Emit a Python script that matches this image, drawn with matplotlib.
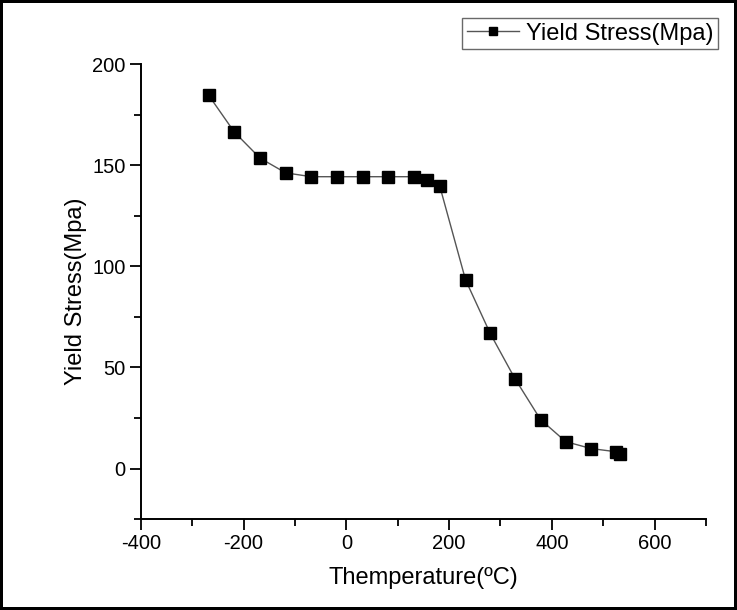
"""Yield stress vs temperature, Origin-style line + square markers."""
import matplotlib
matplotlib.use("Agg")
import matplotlib.pyplot as plt
from matplotlib.ticker import MultipleLocator

plt.rcParams["font.family"] = ["Liberation Sans", "DejaVu Sans"]
plt.rcParams["axes.unicode_minus"] = False

# values
temperature = [-268, -218, -168, -118, -68, -18, 32, 82, 132, 157, 182,
               232, 280, 328, 378, 427, 476, 525, 533]
yield_stress = [184.6, 166.4, 153.5, 146.2, 144.3, 144.3, 144.3, 144.3, 144.3,
                142.7, 139.5, 93.3, 66.8, 44.5, 24.2, 13.3, 9.9, 8.3, 7.3]
series_label = "Yield Stress(Mpa)"


def main():
    fig = plt.figure(figsize=(7.37, 6.10), dpi=100)
    fig.patch.set_edgecolor("black")
    fig.patch.set_linewidth(4)
    ax = fig.add_axes([0.191, 0.149, 0.767, 0.746])

    ax.plot(temperature, yield_stress, color="#555555", lw=1.0,
            marker="s", markersize=8.5, markerfacecolor="black",
            markeredgecolor="black", label=series_label)

    ax.set_xlim(-400, 700)
    ax.set_ylim(-25, 200)
    ax.xaxis.set_major_locator(MultipleLocator(200))
    ax.xaxis.set_minor_locator(MultipleLocator(100))
    ax.yaxis.set_major_locator(MultipleLocator(50))
    ax.yaxis.set_minor_locator(MultipleLocator(25))

    for side in ("top", "right"):
        ax.spines[side].set_visible(False)
    for side in ("left", "bottom"):
        ax.spines[side].set_linewidth(1.4)
    ax.tick_params(which="major", direction="out", length=8, width=1.3,
                   labelsize=14.5, pad=3)
    ax.tick_params(which="minor", direction="out", length=5, width=1.3)

    ax.set_xlabel("Themperature(ºC)", fontsize=17, labelpad=10)
    ax.set_ylabel("Yield Stress(Mpa)", fontsize=17)
    ax.yaxis.set_label_coords(-0.095, 0.5)

    leg = fig.legend(loc="upper right", bbox_to_anchor=(718 / 737, 1 - 18 / 610),
                     fontsize=17, fancybox=False, frameon=True,
                     handlelength=2.2, handletextpad=0.3, borderpad=0.2,
                     borderaxespad=0, markerscale=0.75)
    leg.get_frame().set_edgecolor("#444444")
    leg.get_frame().set_linewidth(1.0)

    fig.savefig("out.png", dpi=100)
    plt.close(fig)


if __name__ == "__main__":
    main()
